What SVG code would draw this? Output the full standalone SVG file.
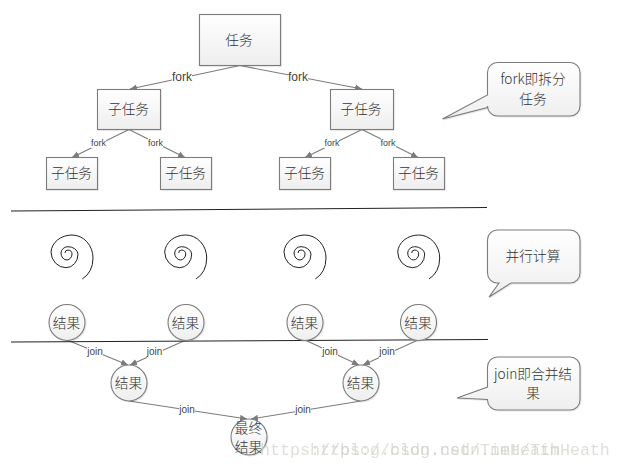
<svg xmlns="http://www.w3.org/2000/svg" xmlns:xlink="http://www.w3.org/1999/xlink" width="622" height="470" viewBox="0 0 622 470">
<style>
text{font-family:"Noto Sans CJK SC","Liberation Sans",sans-serif;font-size:13.7px;font-weight:300;fill:#333;text-anchor:middle}
.s{fill:url(#g);stroke:#7c7c7c;stroke-width:1.1;filter:url(#sh)}
.e{fill:none;stroke:#7c7c7c;stroke-width:1.1;marker-end:url(#a)}
.l{font-family:"Liberation Sans",sans-serif;font-weight:400;fill:#444}
.lb{fill:#fff}
.r{fill:none;stroke:#222;stroke-width:1.1}
.sp{fill:none;stroke:#222;stroke-width:1}
.w{font-family:"Liberation Mono",monospace;font-size:16.67px;font-weight:400;fill:#d2d2ca;text-anchor:start;opacity:.7}
</style>
<defs>
<linearGradient id="g" x1="0" y1="0" x2="0" y2="1"><stop offset="0" stop-color="#fff"/><stop offset="1" stop-color="#eee"/></linearGradient>
<filter id="sh" x="-10%" y="-10%" width="125%" height="125%"><feDropShadow dx="0.8" dy="0.8" stdDeviation="0.6" flood-color="#000" flood-opacity="0.12"/></filter>
<marker id="a" markerUnits="userSpaceOnUse" markerWidth="8" markerHeight="8" refX="7" refY="4" orient="auto"><path d="M0,0.8L7,4L0,7.2z" fill="#7c7c7c"/></marker>
<path id="sp" class="sp" d="M82.3,279A20,24 0 0 0 93,258A21,23 0 0 0 72,235A21,18 0 0 0 51,252A15,16 0 0 0 66,267.7A12,13.5 0 0 0 78,254A10,8 0 0 0 68,246.7A7,6.5 0 0 0 61,253A6,7 0 0 0 67,260A5.5,6 0 0 0 72,254A4.5,4 0 0 0 68,250A3,3 0 0 0 65,253"/>
</defs>
<g id="connectors">
<path class="e" d="M240,65.5L130,89"/><path class="e" d="M240,65.5L362,89"/>
<path class="e" d="M129,129.5L72,157.5"/><path class="e" d="M129,129.5L185,157.5"/>
<path class="e" d="M362,129.5L305,157.5"/><path class="e" d="M362,129.5L418,157.5"/>
<path class="e" d="M67,340L128,365"/><path class="e" d="M186,340L130,365"/>
<path class="e" d="M305,340L359,365"/><path class="e" d="M418,340L363,365"/>
<path class="e" d="M129,401L247,419"/><path class="e" d="M361,401L251,419"/>
<g class="lb">
<rect x="172" y="70" width="20" height="13"/><rect x="288" y="70" width="20" height="13"/>
<rect x="91" y="137" width="15" height="11"/><rect x="148" y="137" width="15" height="11"/>
<rect x="324" y="137" width="15" height="11"/><rect x="381" y="137" width="15" height="11"/>
<rect x="87" y="346" width="16" height="12"/><rect x="147" y="346" width="16" height="12"/>
<rect x="322" y="346" width="16" height="12"/><rect x="379" y="346" width="16" height="12"/>
<rect x="179" y="404" width="16" height="12"/><rect x="295" y="404" width="16" height="12"/>
</g>
<g>
<text class="l" x="182" y="81" style="font-size:12px">fork</text><text class="l" x="298" y="81" style="font-size:12px">fork</text>
<text class="l" x="98.5" y="146" style="font-size:9px">fork</text><text class="l" x="155.5" y="146" style="font-size:9px">fork</text>
<text class="l" x="332" y="146" style="font-size:9px">fork</text><text class="l" x="388" y="146" style="font-size:9px">fork</text>
<text class="l" x="95" y="355" style="font-size:10px">join</text><text class="l" x="154.5" y="355" style="font-size:10px">join</text>
<text class="l" x="330" y="355" style="font-size:10px">join</text><text class="l" x="387" y="355" style="font-size:10px">join</text>
<text class="l" x="187" y="413" style="font-size:10px">join</text><text class="l" x="303" y="413" style="font-size:10px">join</text>
</g>
</g>
<path class="r" d="M11,211L487,207.5"/>
<use xlink:href="#sp" href="#sp"/>
<use xlink:href="#sp" href="#sp" x="113.7"/>
<use xlink:href="#sp" href="#sp" x="233"/>
<use xlink:href="#sp" href="#sp" x="346.7"/>
<g id="task"><rect class="s" x="199.5" y="14.5" width="81" height="51"/><text x="239" y="45">任务</text></g>
<g id="sub1"><rect class="s" x="97.5" y="89.5" width="63" height="40"/><text x="128.500" y="114">子任务</text></g>
<g id="sub2"><rect class="s" x="330.5" y="89.5" width="63" height="40"/><text x="361" y="114">子任务</text></g>
<g id="sub11"><rect class="s" x="46.5" y="157.5" width="51" height="32"/><text x="71.500" y="178">子任务</text></g>
<g id="sub12"><rect class="s" x="160.5" y="157.5" width="51" height="32"/><text x="185.500" y="178">子任务</text></g>
<g id="sub21"><rect class="s" x="279.5" y="157.5" width="51" height="32"/><text x="304.500" y="178">子任务</text></g>
<g id="sub22"><rect class="s" x="393.5" y="157.5" width="51" height="32"/><text x="418.500" y="178">子任务</text></g>
<g id="callout-fork"><path class="s" d="M497.5,62.5H570a10,10 0 0 1 10,10V106a10,10 0 0 1 -10,10H497.5a10,10 0 0 1 -10,-10V107.5L442.5,119L487.5,95V72.5a10,10 0 0 1 10,-10z"/><text x="533" y="84">fork即拆分</text><text x="533" y="104">任务</text></g>
<g id="callout-parallel"><path class="s" d="M497.5,230H570a10,10 0 0 1 10,10V273a10,10 0 0 1 -10,10H511L489,297L499,283H497.5a10,10 0 0 1 -10,-10V240a10,10 0 0 1 10,-10z"/><text x="533" y="261">并行计算</text></g>
<g id="callout-join"><path class="s" d="M497.5,357H570a10,10 0 0 1 10,10V400a10,10 0 0 1 -10,10H497.5a10,10 0 0 1 -10,-10V399.5L457,398L487.5,387V367a10,10 0 0 1 10,-10z"/><text x="533" y="379">join即合并结</text><text x="533" y="398">果</text></g>
<path class="r" d="M11,342L488,339.5"/>
<g id="r1"><circle class="s" cx="67" cy="322.5" r="18"/><text x="66.500" y="327.5">结果</text></g>
<g id="r2"><circle class="s" cx="186" cy="322.5" r="18"/><text x="185.500" y="327.5">结果</text></g>
<g id="r3"><circle class="s" cx="305" cy="322.5" r="18"/><text x="304.500" y="327.5">结果</text></g>
<g id="r4"><circle class="s" cx="418.5" cy="322.5" r="18"/><text x="418" y="327.5">结果</text></g>
<g id="m1"><circle class="s" cx="129" cy="383" r="18"/><text x="128.500" y="388">结果</text></g>
<g id="m2"><circle class="s" cx="361" cy="383" r="18"/><text x="360.500" y="388">结果</text></g>
<g id="final"><circle class="s" cx="249" cy="437" r="18"/><text x="248.500" y="433">最终</text><text x="248.500" y="452">结果</text></g>
<text class="w" x="260" y="455">https://blog.csdn.net/TimHeath</text>
<text class="w" x="310" y="455">https://blog.csdn.net/TimHeath</text>
</svg>
